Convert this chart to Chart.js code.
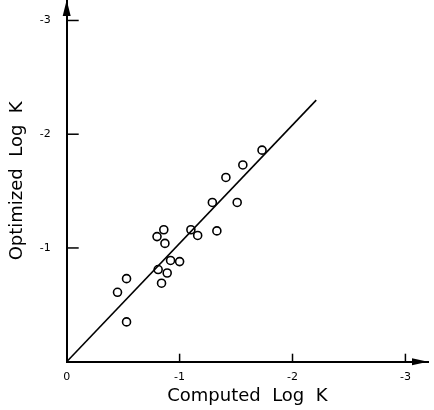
<!DOCTYPE html>
<html>
<head>
<meta charset="utf-8">
<script src="https://cdn.jsdelivr.net/npm/chart.js@4/dist/chart.umd.min.js"></script>
<style>
  body { margin: 0; background: #fff; }
  #wrap { width: 434px; height: 410px; }
</style>
</head>
<body>
<div id="wrap"><canvas id="scatterChart"></canvas></div>
<script>
// data
var computedLogK = [-0.45, -0.53, -0.53, -0.81, -0.84, -0.80, -0.86, -0.87, -0.89, -0.92,
                    -1.00, -1.10, -1.16, -1.29, -1.33, -1.41, -1.51, -1.56, -1.73]
var optimizedLogK = [-0.61, -0.73, -0.35, -0.81, -0.69, -1.10, -1.16, -1.04, -0.78, -0.89,
                     -0.88, -1.16, -1.11, -1.40, -1.15, -1.62, -1.40, -1.73, -1.86]

// fitted line
var fitX = [0, -2.21]
var fitY = [0, -2.30]

var xTicks = [0, -1, -2, -3]
var yTicks = [-1, -2, -3]

var FONT = 'DejaVu Sans'

function toPoints(xs, ys) {
    var pts = []
    for (let i = 0; i < xs.length; i++) {
        pts.push({ x: xs[i], y: ys[i] })
    }
    return pts
}

// inward tick marks and arrow heads
const axisDecor = {
    id: 'axisDecor',
    afterDraw(chart) {
        const ctx = chart.ctx
        const a = chart.chartArea
        const x = chart.scales.x
        const y = chart.scales.y
        ctx.save()
        ctx.strokeStyle = '#000'
        ctx.fillStyle = '#000'
        ctx.lineWidth = 1.5
        for (let v of xTicks) {
            if (v === 0) continue
            const px = x.getPixelForValue(v)
            ctx.beginPath()
            ctx.moveTo(px, a.bottom)
            ctx.lineTo(px, a.bottom - 8)
            ctx.stroke()
        }
        for (let v of yTicks) {
            const py = y.getPixelForValue(v)
            ctx.beginPath()
            ctx.moveTo(a.left, py)
            ctx.lineTo(a.left + 12, py)
            ctx.stroke()
        }
        // x arrow
        ctx.beginPath()
        ctx.moveTo(a.right, a.bottom)
        ctx.lineTo(a.right - 16, a.bottom - 3.5)
        ctx.lineTo(a.right - 16, a.bottom + 3.5)
        ctx.closePath()
        ctx.fill()
        // y arrow
        ctx.beginPath()
        ctx.moveTo(a.left, a.top)
        ctx.lineTo(a.left - 4, a.top + 16)
        ctx.lineTo(a.left + 4, a.top + 16)
        ctx.closePath()
        ctx.fill()
        ctx.restore()
    }
}

function ScatterChart() {
    Chart.defaults.color = '#000'
    Chart.defaults.font.family = FONT

    const pointSet = {
        label: 'data',
        data: toPoints(computedLogK, optimizedLogK),
        pointStyle: 'circle',
        pointRadius: 4,
        pointBorderWidth: 1.6,
        pointBorderColor: '#000',
        pointBackgroundColor: 'rgba(0,0,0,0)',
        showLine: false
    }
    const fitSet = {
        label: 'fit',
        data: toPoints(fitX, fitY),
        showLine: true,
        borderColor: '#000',
        borderWidth: 1.6,
        pointRadius: 0,
        fill: false
    }

    var ctx = document.getElementById('scatterChart').getContext('2d')
    new Chart(ctx, {
        type: 'scatter',
        data: { datasets: [pointSet, fitSet] },
        options: {
            responsive: true,
            maintainAspectRatio: false,
            animation: false,
            layout: { autoPadding: false, padding: { left: 0, right: 6, top: 0, bottom: 0 } },
            plugins: { legend: { display: false }, tooltip: { enabled: false } },
            scales: {
                x: {
                    type: 'linear',
                    reverse: true,
                    min: -3.2,
                    max: 0,
                    grid: { display: false, drawTicks: false },
                    border: { display: true, color: '#000', width: 2 },
                    afterBuildTicks: function (scale) {
                        scale.ticks = xTicks.map(v => ({ value: v }))
                    },
                    afterFit: function (scale) {
                        scale.height = 48.3
                        scale.paddingLeft = 0
                        scale.paddingRight = 0
                    },
                    ticks: {
                        padding: 9,
                        maxRotation: 0,
                        font: { size: 11 },
                        callback: function (v) { return v === 0 ? '0' : String(v) }
                    },
                    title: {
                        display: true,
                        text: 'Computed  Log  K',
                        font: { size: 18 },
                        padding: { top: 0, bottom: 3 }
                    }
                },
                y: {
                    type: 'linear',
                    reverse: true,
                    min: -3.18,
                    max: 0,
                    grid: { display: false, drawTicks: false },
                    border: { display: true, color: '#000', width: 2 },
                    afterBuildTicks: function (scale) {
                        scale.ticks = yTicks.map(v => ({ value: v }))
                    },
                    afterFit: function (scale) {
                        scale.width = 66.7
                        scale.paddingTop = 0
                        scale.paddingBottom = 0
                    },
                    ticks: {
                        padding: 16,
                        font: { size: 11 },
                        callback: function (v) { return String(v) }
                    },
                    title: {
                        display: true,
                        text: 'Optimized  Log  K',
                        font: { size: 18 },
                        padding: { top: 7, bottom: 0 }
                    }
                }
            }
        },
        plugins: [axisDecor]
    })
}

document.addEventListener('DOMContentLoaded', ScatterChart)
</script>
</body>
</html>
